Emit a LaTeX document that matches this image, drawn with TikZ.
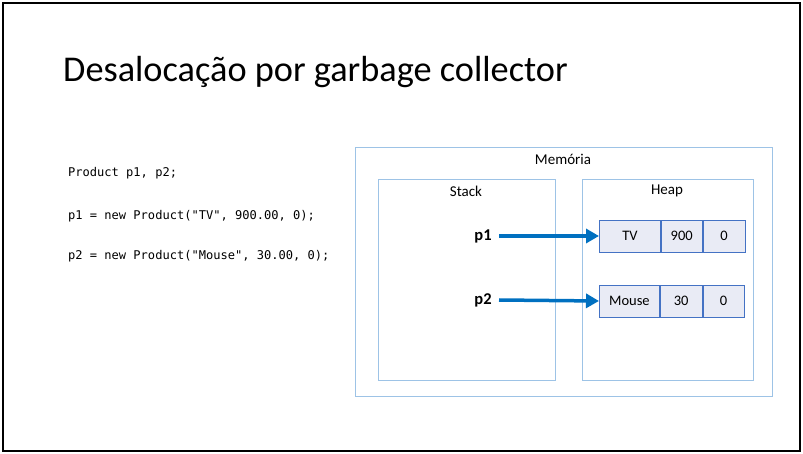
\documentclass[tikz,border=0pt]{standalone}
\usepackage{fontspec}
\setmainfont{Carlito}
\setmonofont{DejaVu Sans Mono}
\usetikzlibrary{arrows.meta}
\definecolor{frameblue}{RGB}{157,195,230}
\definecolor{cellblue}{RGB}{68,114,196}
\definecolor{cellfill}{RGB}{233,235,245}
\definecolor{arrowblue}{RGB}{0,112,192}
\begin{document}
\begin{tikzpicture}[x=1pt,y=-1pt,
  region/.style={draw=frameblue,line width=0.9pt},
  cell/.style={draw=cellblue,fill=cellfill,line width=0.8pt,minimum height=32pt,inner sep=0pt,anchor=west,font=\fontsize{14.5}{16}\selectfont},
  lbl/.style={font=\fontsize{15}{17}\selectfont,inner sep=0pt},
  var/.style={font=\bfseries\fontsize{16.5}{18}\selectfont,inner sep=0pt},
  code/.style={font=\ttfamily\fontsize{12.05}{14}\selectfont,anchor=west,inner sep=0pt},
  ref/.style={draw=arrowblue,line width=3.5pt,-{Triangle[length=13pt,width=14pt]}}]
\useasboundingbox (0,0) rectangle (803,454);
\draw[line width=1.4pt] (3,3) rectangle (800,451);
% title
\node[anchor=base west,inner sep=0pt,font=\fontsize{36.3}{42}\selectfont] (title) at (63,82) {Desalocação por garbage collector};
% code listing
\node[code] (c1) at (68,173) {Product p1, p2;};
\node[code] (c2) at (68,216) {p1 = new Product("TV", 900.00, 0);};
\node[code] (c3) at (68,256) {p2 = new Product("Mouse", 30.00, 0);};
% memory regions
\draw[region] (355,147) rectangle (772,396);
\node[lbl] (mem) at (563,159) {Memória};
\draw[region] (378,179) rectangle (555,380);
\node[lbl] (stack) at (466,191) {Stack};
\draw[region] (582,179) rectangle (753,380);
\node[lbl] (heap) at (667,191) {Heap};
% heap objects
\node[cell,minimum width=61pt] (tv) at (599,236) {TV};
\node[cell,minimum width=41pt] (tvp) at (tv.east) {900};
\node[cell,minimum width=42pt] (tvq) at (tvp.east) {0};
\node[cell,minimum width=60pt] (ms) at (599,301) {Mouse};
\node[cell,minimum width=42pt] (msp) at (ms.east) {30};
\node[cell,minimum width=41pt] (msq) at (msp.east) {0};
% references
\node[var] (p1) at (483,236) {p1};
\node[var] (p2) at (483,300) {p2};
\coordinate (p1s) at (499,236);
\coordinate (p2s) at (499,300);
\draw[ref] (p1s) -- (tv.west);
\draw[ref] (p2s) -- (ms.west);
\end{tikzpicture}
\end{document}
